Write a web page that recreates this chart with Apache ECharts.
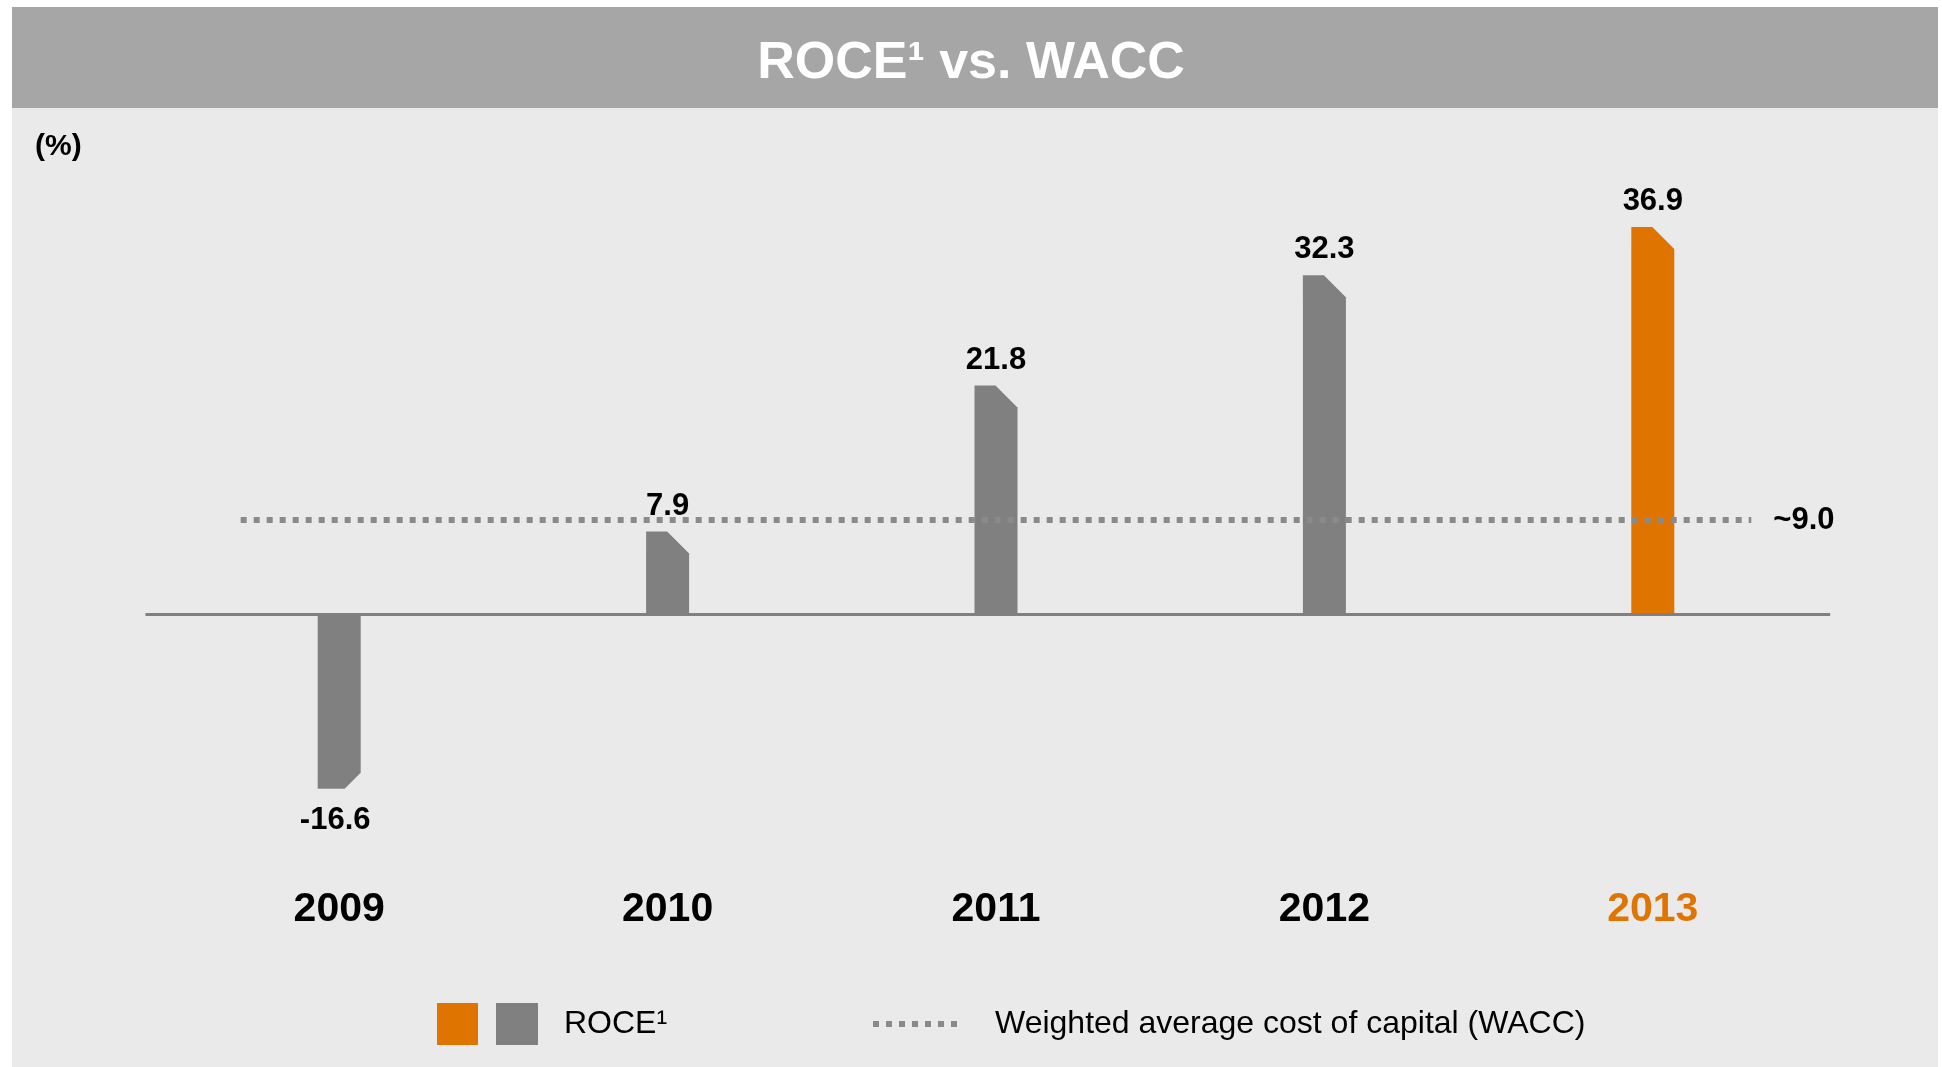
<!DOCTYPE html>
<html>
<head>
<meta charset="utf-8">
<script src="https://cdn.jsdelivr.net/npm/echarts@6/dist/echarts.min.js"></script>
<style>
html,body{margin:0;padding:0;background:#fff;}
#chart{width:1942px;height:1067px;}
</style>
</head>
<body>
<div id="chart"></div>
<script>
// ---- data ----
const years = ['2009', '2010', '2011', '2012', '2013'];
const roce = [-16.6, 7.9, 21.8, 32.3, 36.9];
const wacc = 9.0;
const waccLabel = '~9.0';
const waccSpan = [-0.3, 4.3];      // extent of the WACC line, in category-position units
const zeroSpan = [-0.59, 4.54];    // extent of the zero baseline, in category-position units
const highlightYear = '2013';

// ---- styles ----
const FONT = '"Liberation Sans", Arial, Helvetica, sans-serif';
const GREY = '#808080';
const ORANGE = '#E07400';
const DOT = '#8a8a8a';

const chart = echarts.init(document.getElementById('chart'), null, {renderer: 'canvas'});

// Layout: the bar grid spans category bands; a second, wider grid hosts the reference lines
const GRID_TOP = 142, GRID_H = 735;
const BAR_LEFT = 175, BAR_RIGHT = 125;
const bandW = (1942 - BAR_LEFT - BAR_RIGHT) / years.length;
const LINE_LEFT = BAR_LEFT + (zeroSpan[0] + 0.5) * bandW;
const LINE_RIGHT = 1942 - (BAR_LEFT + (zeroSpan[1] + 0.5) * bandW);

const option = {
  backgroundColor: '#ffffff',
  animation: false,
  title: {
    text: 'ROCE\u00B9 vs. WACC',
    left: 'center',
    top: 32,
    textStyle: {color: '#ffffff', fontSize: 52, fontWeight: 'bold', fontFamily: FONT, lineHeight: 54}
  },
  graphic: [
    {type: 'rect', z: -10, shape: {x: 12, y: 7, width: 1926, height: 101}, style: {fill: '#A6A6A6'}},
    {type: 'rect', z: -10, shape: {x: 12, y: 108, width: 1926, height: 959}, style: {fill: '#EAEAEA'}},
    {type: 'text', z: 5, x: 35, y: 147, style: {text: '(%)', fill: '#000', font: 'bold 30px ' + FONT, textVerticalAlign: 'middle'}},
    // legend
    {type: 'rect', z: 5, shape: {x: 437, y: 1003, width: 41, height: 42}, style: {fill: ORANGE}},
    {type: 'rect', z: 5, shape: {x: 496, y: 1003, width: 42, height: 42}, style: {fill: GREY}},
    {type: 'text', z: 5, x: 564, y: 1024, style: {text: 'ROCE\u00B9', fill: '#000', font: '32px ' + FONT, textVerticalAlign: 'middle'}},
    {type: 'line', z: 5, shape: {x1: 873, y1: 1024, x2: 960, y2: 1024}, style: {stroke: DOT, lineWidth: 6, lineDash: [6, 7]}},
    {type: 'text', z: 5, x: 995, y: 1024, style: {text: 'Weighted average cost of capital (WACC)', fill: '#000', font: '32px ' + FONT, textVerticalAlign: 'middle'}}
  ],
  grid: [
    {left: BAR_LEFT, right: BAR_RIGHT, top: GRID_TOP, height: GRID_H, containLabel: false},
    {left: LINE_LEFT, right: LINE_RIGHT, top: GRID_TOP, height: GRID_H, containLabel: false}
  ],
  xAxis: [
    {
      type: 'category',
      gridIndex: 0,
      data: years,
      boundaryGap: true,
      axisLine: {show: false, onZero: false},
      axisTick: {show: false},
      splitLine: {show: false},
      axisLabel: {
        margin: 12,
        fontSize: 41,
        fontWeight: 'bold',
        fontFamily: FONT,
        color: function (v) { return v === highlightYear ? ORANGE : '#000'; }
      }
    },
    {type: 'value', gridIndex: 1, min: zeroSpan[0], max: zeroSpan[1], show: false, splitLine: {show: false}}
  ],
  yAxis: [
    {type: 'value', gridIndex: 0, min: -25, max: 45, show: false, splitLine: {show: false}},
    {type: 'value', gridIndex: 1, min: -25, max: 45, show: false, splitLine: {show: false}}
  ],
  series: [
    {
      type: 'custom',
      xAxisIndex: 0,
      yAxisIndex: 0,
      z: 3,
      data: roce.map((v, i) => [i, v]),
      renderItem: function (params, api) {
        const idx = api.value(0);
        const val = api.value(1);
        const top = api.coord([idx, val]);
        const base = api.coord([idx, 0]);
        const w = 43;
        const x0 = top[0] - w / 2, x1 = top[0] + w / 2;
        const color = years[idx] === highlightYear ? ORANGE : GREY;
        let pts, ty, tv, tx;
        if (val >= 0) {
          const c = 22;
          pts = [[x0, base[1]], [x0, top[1]], [x1 - c, top[1]], [x1, top[1] + c], [x1, base[1]]];
          ty = top[1] - 10; tv = 'bottom'; tx = top[0];
        } else {
          const c = 16;
          pts = [[x0, base[1]], [x0, top[1]], [x1 - c, top[1]], [x1, top[1] - c], [x1, base[1]]];
          ty = top[1] + 16; tv = 'top'; tx = top[0] - 4;
        }
        return {
          type: 'group',
          children: [
            {type: 'polygon', shape: {points: pts}, style: {fill: color}},
            {type: 'text', x: tx, y: ty, style: {text: val.toFixed(1), fill: '#000', font: 'bold 31px ' + FONT, textAlign: 'center', textVerticalAlign: tv}}
          ]
        };
      }
    },
    {
      type: 'line',
      xAxisIndex: 1,
      yAxisIndex: 1,
      z: 4,
      symbol: 'none',
      silent: true,
      data: [[waccSpan[0], wacc], [waccSpan[1], wacc]],
      lineStyle: {color: DOT, width: 6, type: [6, 7], cap: 'butt'},
      endLabel: {
        show: true,
        formatter: waccLabel,
        distance: 22,
        fontSize: 31,
        fontWeight: 'bold',
        fontFamily: FONT,
        color: '#000'
      }
    },
    {
      type: 'line',
      xAxisIndex: 1,
      yAxisIndex: 1,
      z: 5,
      symbol: 'none',
      silent: true,
      data: [[zeroSpan[0], 0], [zeroSpan[1], 0]],
      lineStyle: {color: GREY, width: 3}
    }
  ]
};
chart.setOption(option);
</script>
</body>
</html>
